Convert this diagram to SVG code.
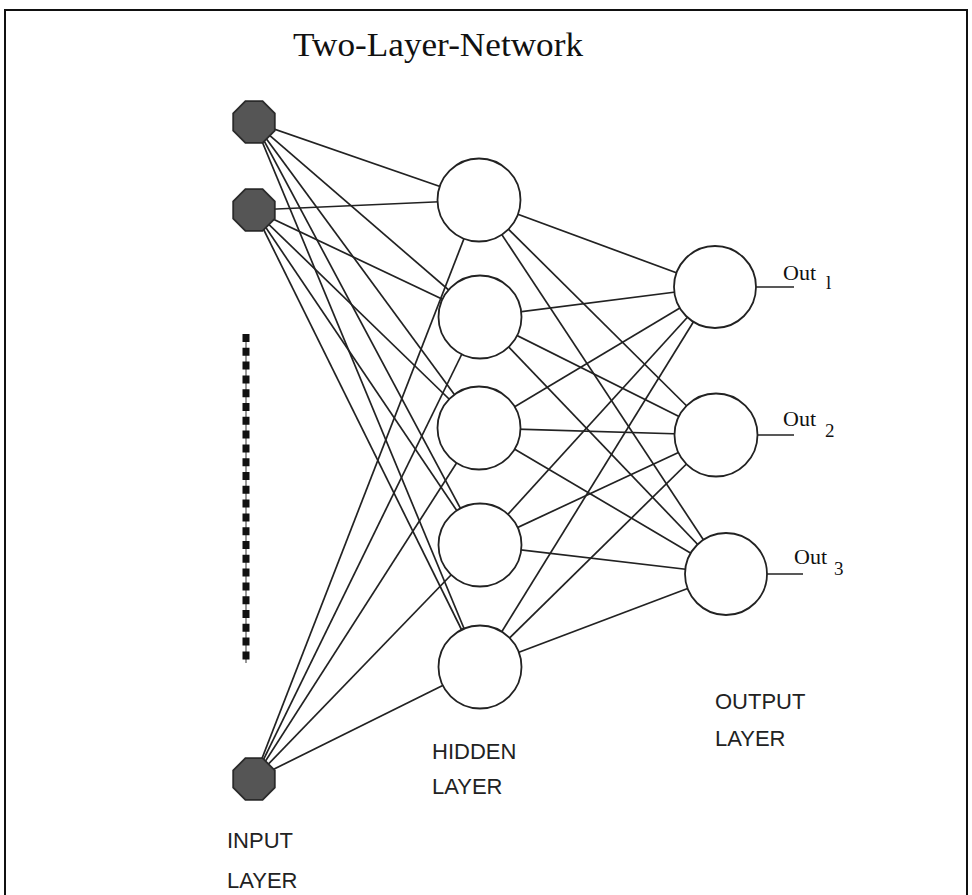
<svg xmlns="http://www.w3.org/2000/svg" xmlns:xlink="http://www.w3.org/1999/xlink" width="972" height="895" viewBox="0 0 972 895">
  <style>
    .frame { fill: none; stroke: #111; stroke-width: 2; }
    .title { font-family: "Liberation Serif", serif; font-size: 34px; fill: #111; }
    .label { font-family: "Liberation Sans", sans-serif; font-size: 22px; fill: #222; }
    .out { font-family: "Liberation Serif", serif; font-size: 22px; fill: #111; }
    .sub { font-family: "Liberation Serif", serif; font-size: 19px; fill: #111; }
    .edge { stroke: #222; stroke-width: 1.7; fill: none; }
    .input { fill: #555; stroke: #2a2a2a; stroke-width: 1.8; }
    .unit { fill: #fff; stroke: #222; stroke-width: 1.8; }
    .dots { stroke: #111; stroke-width: 7; stroke-dasharray: 8 5.8; }
    .dotline { stroke: #555; stroke-width: 1.2; }
  </style>
  <defs>
    <polygon id="oct" points="-8.6,-20.8 8.6,-20.8 20.8,-8.6 20.8,8.6 8.6,20.8 -8.6,20.8 -20.8,8.6 -20.8,-8.6"/>
  </defs>

  <rect width="972" height="895" fill="#fff"/>
  <rect class="frame" x="5" y="10" width="962" height="900"/>

  <text class="title" x="293" y="56" textLength="290" lengthAdjust="spacingAndGlyphs">Two-Layer-Network</text>

  <!-- connectors: input -> hidden, hidden -> output -->
  <g id="connectors" class="edge">
    <line x1="254" y1="122" x2="479" y2="200"/>
    <line x1="254" y1="122" x2="480" y2="317"/>
    <line x1="254" y1="122" x2="479" y2="428"/>
    <line x1="254" y1="122" x2="480" y2="545"/>
    <line x1="254" y1="122" x2="480" y2="667"/>
    <line x1="254" y1="210" x2="479" y2="200"/>
    <line x1="254" y1="210" x2="480" y2="317"/>
    <line x1="254" y1="210" x2="479" y2="428"/>
    <line x1="254" y1="210" x2="480" y2="545"/>
    <line x1="254" y1="210" x2="480" y2="667"/>
    <line x1="254" y1="779" x2="479" y2="200"/>
    <line x1="254" y1="779" x2="480" y2="317"/>
    <line x1="254" y1="779" x2="479" y2="428"/>
    <line x1="254" y1="779" x2="480" y2="545"/>
    <line x1="254" y1="779" x2="480" y2="667"/>

    <line x1="479" y1="200" x2="715" y2="287"/>
    <line x1="479" y1="200" x2="716" y2="435"/>
    <line x1="479" y1="200" x2="726" y2="574"/>
    <line x1="480" y1="317" x2="715" y2="287"/>
    <line x1="480" y1="317" x2="716" y2="435"/>
    <line x1="480" y1="317" x2="726" y2="574"/>
    <line x1="479" y1="428" x2="715" y2="287"/>
    <line x1="479" y1="428" x2="716" y2="435"/>
    <line x1="479" y1="428" x2="726" y2="574"/>
    <line x1="480" y1="545" x2="715" y2="287"/>
    <line x1="480" y1="545" x2="716" y2="435"/>
    <line x1="480" y1="545" x2="726" y2="574"/>
    <line x1="480" y1="667" x2="715" y2="287"/>
    <line x1="480" y1="667" x2="716" y2="435"/>
    <line x1="480" y1="667" x2="726" y2="574"/>

    <line x1="756" y1="287" x2="794" y2="287"/>
    <line x1="757" y1="435" x2="794" y2="435"/>
    <line x1="767" y1="574" x2="803" y2="574"/>
  </g>

  <!-- elided inputs -->
  <g id="ellipsis">
    <line class="dotline" x1="246" y1="334" x2="246" y2="663"/>
    <line class="dots" x1="246" y1="334" x2="246" y2="663"/>
  </g>

  <!-- input layer -->
  <g id="in1"><use xlink:href="#oct" class="input" x="254" y="122"/></g>
  <g id="in2"><use xlink:href="#oct" class="input" x="254" y="210"/></g>
  <g id="inN"><use xlink:href="#oct" class="input" x="254" y="779"/></g>

  <!-- hidden layer -->
  <g id="h1"><circle class="unit" cx="479" cy="200" r="41.5"/></g>
  <g id="h2"><circle class="unit" cx="480" cy="317" r="41.5"/></g>
  <g id="h3"><circle class="unit" cx="479" cy="428" r="41.5"/></g>
  <g id="h4"><circle class="unit" cx="480" cy="545" r="41.5"/></g>
  <g id="h5"><circle class="unit" cx="480" cy="667" r="41.5"/></g>

  <!-- output layer -->
  <g id="o1"><circle class="unit" cx="715" cy="287" r="41"/></g>
  <g id="o2"><circle class="unit" cx="716" cy="435" r="41.5"/></g>
  <g id="o3"><circle class="unit" cx="726" cy="574" r="41"/></g>

  <!-- output names -->
  <text class="out" x="783" y="280">Out</text>
  <text class="sub" x="826" y="289">l</text>
  <text class="out" x="783" y="426">Out</text>
  <text class="sub" x="825" y="437">2</text>
  <text class="out" x="794" y="564">Out</text>
  <text class="sub" x="834" y="575">3</text>

  <!-- layer captions -->
  <text class="label" x="432" y="759">HIDDEN</text>
  <text class="label" x="432" y="794">LAYER</text>
  <text class="label" x="715" y="709">OUTPUT</text>
  <text class="label" x="715" y="746">LAYER</text>
  <text class="label" x="227" y="848">INPUT</text>
  <text class="label" x="227" y="888">LAYER</text>
</svg>
